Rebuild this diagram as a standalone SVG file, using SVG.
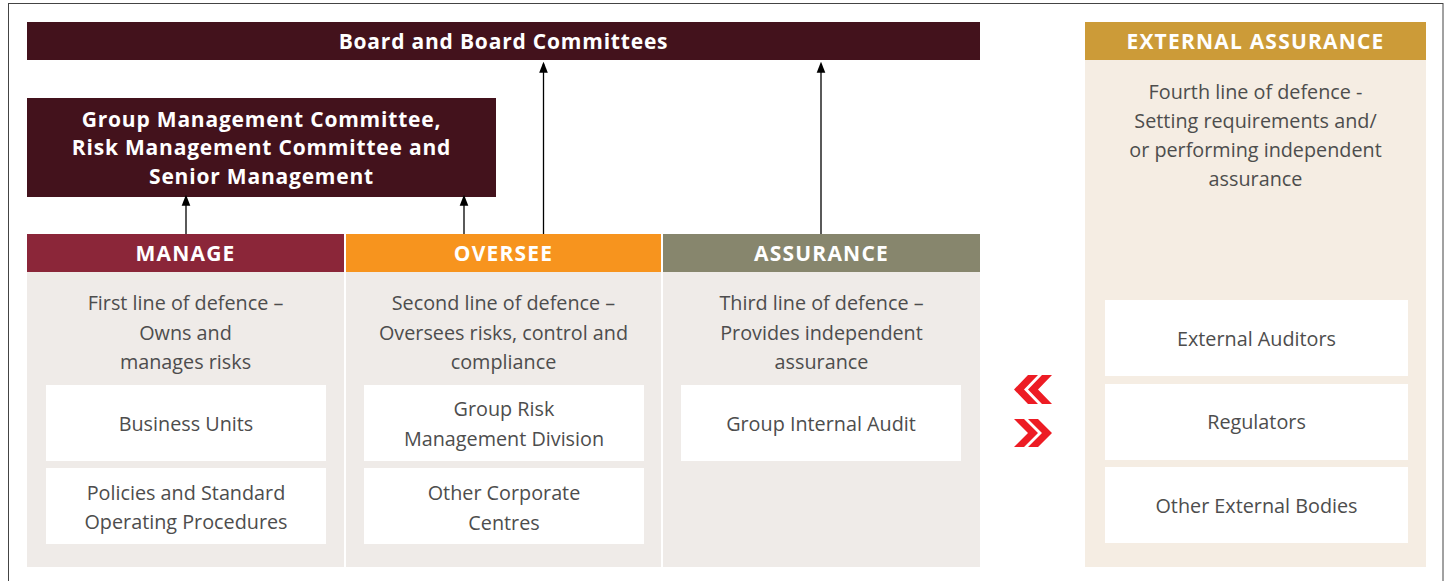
<svg xmlns="http://www.w3.org/2000/svg" width="1452" height="581" viewBox="0 0 1452 581">
<style>
.t{font-family:"Open Sans","Noto Sans",sans-serif;font-size:19.8px;fill:#4d4d4d;text-anchor:middle}
.h{font-family:"Open Sans","Noto Sans",sans-serif;font-size:21px;font-weight:bold;fill:#ffffff;text-anchor:middle;letter-spacing:0.8px}
.hu{font-family:"Open Sans","Noto Sans",sans-serif;font-size:21px;font-weight:bold;fill:#ffffff;text-anchor:middle;letter-spacing:1.2px}
.box{fill:#ffffff}
.conn{stroke:#000;stroke-width:1.3;fill:none;marker-end:url(#ah)}
.chev{fill:#ed1c24}
</style>
<defs>
<marker id="ah" markerWidth="11" markerHeight="14" refX="11" refY="5.5" orient="auto" markerUnits="userSpaceOnUse" viewBox="0 0 14 11">
<path d="M0,0 L14,5.5 L0,11 Z" fill="#000"/>
</marker>
</defs>
<rect x="0" y="0" width="1452" height="581" fill="#ffffff"/>
<rect x="8.5" y="3.5" width="1434.5" height="600" fill="none" stroke="#444" stroke-width="1"/>

<g id="board">
<rect x="27" y="22" width="953" height="38" fill="#43121c"/>
<text class="h" x="503.5" y="49">Board and Board Committees</text>
</g>

<g id="gmc">
<rect x="27" y="98" width="469" height="99" fill="#43121c"/>
<text class="h" x="261.5" y="126.5">Group Management Committee,</text>
<text class="h" x="261.5" y="155">Risk Management Committee and</text>
<text class="h" x="261.5" y="183.5">Senior Management</text>
</g>

<g id="manage">
<rect x="27" y="234" width="317" height="38" fill="#8b2639"/>
<rect x="27" y="272" width="317" height="295" fill="#efebe8"/>
<text class="hu" x="185.5" y="260.5">MANAGE</text>
<text class="t" x="185.5" y="310">First line of defence –</text>
<text class="t" x="185.5" y="339.5">Owns and</text>
<text class="t" x="185.5" y="369">manages risks</text>
</g>
<g id="business-units">
<rect class="box" x="46" y="385" width="280" height="76"/>
<text class="t" x="186" y="430.5">Business Units</text>
</g>
<g id="policies">
<rect class="box" x="46" y="468" width="280" height="76"/>
<text class="t" x="186" y="499.5">Policies and Standard</text>
<text class="t" x="186" y="528.5">Operating Procedures</text>
</g>

<g id="oversee">
<rect x="346" y="234" width="315" height="38" fill="#f7941e"/>
<rect x="346" y="272" width="315" height="295" fill="#efebe8"/>
<text class="hu" x="503.5" y="260.5">OVERSEE</text>
<text class="t" x="503.5" y="310">Second line of defence –</text>
<text class="t" x="503.5" y="339.5">Oversees risks, control and</text>
<text class="t" x="503.5" y="369">compliance</text>
</g>
<g id="group-risk">
<rect class="box" x="364" y="385" width="280" height="76"/>
<text class="t" x="504" y="416">Group Risk</text>
<text class="t" x="504" y="446">Management Division</text>
</g>
<g id="other-corporate">
<rect class="box" x="364" y="468" width="280" height="76"/>
<text class="t" x="504" y="499.5">Other Corporate</text>
<text class="t" x="504" y="529.5">Centres</text>
</g>

<g id="assurance">
<rect x="663" y="234" width="317" height="38" fill="#87866d"/>
<rect x="663" y="272" width="317" height="295" fill="#efebe8"/>
<text class="hu" x="821.5" y="260.5">ASSURANCE</text>
<text class="t" x="821.5" y="310">Third line of defence –</text>
<text class="t" x="821.5" y="339.5">Provides independent</text>
<text class="t" x="821.5" y="369">assurance</text>
</g>
<g id="internal-audit">
<rect class="box" x="681" y="385" width="280" height="76"/>
<text class="t" x="821" y="430.5">Group Internal Audit</text>
</g>

<g id="external">
<rect x="1085" y="22" width="341" height="38" fill="#cc9b38"/>
<rect x="1085" y="60" width="341" height="507" fill="#f5ede3"/>
<text class="hu" x="1255.5" y="48.5">EXTERNAL ASSURANCE</text>
<text class="t" x="1255.5" y="99">Fourth line of defence -</text>
<text class="t" x="1255.5" y="128">Setting requirements and/</text>
<text class="t" x="1255.5" y="157">or performing independent</text>
<text class="t" x="1255.5" y="185.5">assurance</text>
</g>
<g id="external-auditors">
<rect class="box" x="1105" y="300" width="303" height="76"/>
<text class="t" x="1256.5" y="345.5">External Auditors</text>
</g>
<g id="regulators">
<rect class="box" x="1105" y="384" width="303" height="76"/>
<text class="t" x="1256.5" y="429">Regulators</text>
</g>
<g id="other-external">
<rect class="box" x="1105" y="467" width="303" height="76"/>
<text class="t" x="1256.5" y="512.5">Other External Bodies</text>
</g>

<g id="exchange">
<polygon class="chev" points="1014,389.5 1028,375 1038,375 1024,389.5 1038,404 1028,404"/>
<polygon class="chev" points="1028,389.5 1042,375 1052,375 1038,389.5 1052,404 1042,404"/>
<polygon class="chev" points="1014,419 1024,419 1038,433 1024,447 1014,447 1028,433"/>
<polygon class="chev" points="1028,419 1038,419 1052,433 1038,447 1028,447 1042,433"/>
</g>

<g id="connectors">
<line class="conn" x1="186" y1="234" x2="186" y2="197"/>
<line class="conn" x1="464" y1="234" x2="464" y2="197"/>
<line class="conn" x1="543.5" y1="234" x2="543.5" y2="64"/>
<line class="conn" x1="821" y1="234" x2="821" y2="64"/>
</g>
</svg>
